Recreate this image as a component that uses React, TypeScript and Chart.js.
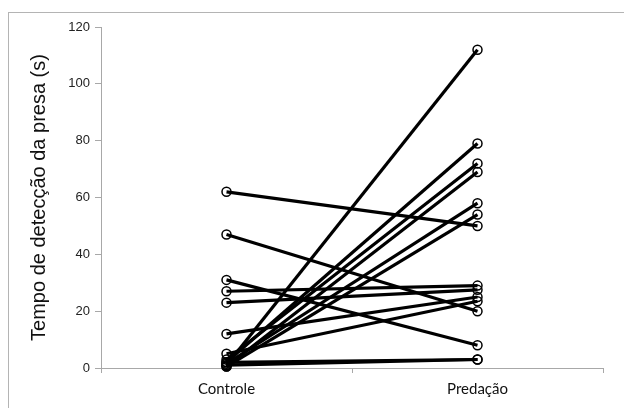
import React, { useEffect, useRef } from "react";
import { Chart, registerables } from "chart.js";

Chart.register(...registerables);

const categories = ["Controle", "Predação"];
const controle = [62, 47, 31, 27, 23, 12, 5, 1, 2, 3, 0.5, 1.5, 0.5, 1, 2];
const predacao = [50, 20, 8, 29, 27.5, 25, 23.5, 112, 79, 72, 69, 58, 54, 3, 3];
const yTitle = "Tempo de detecção da presa (s)";
const yMin = 0;
const yMax = 120;
const yStep = 20;

export default function App() {
  const ref = useRef<HTMLCanvasElement | null>(null);

  useEffect(() => {
    if (!ref.current) return;
    const datasets = controle.map((c, i) => ({
      label: "S" + (i + 1),
      data: [c, predacao[i]],
      borderColor: "#000",
      borderWidth: 3.2,
      pointRadius: 4.5,
      pointBorderWidth: 1.5,
      pointBorderColor: "#000",
      pointBackgroundColor: "rgba(255,255,255,0)",
      clip: false as any,
      tension: 0,
    }));
    const chart = new Chart(ref.current, {
      type: "line",
      data: { labels: categories, datasets },
      options: {
        animation: false,
        responsive: false,
        maintainAspectRatio: false,
        layout: { padding: { left: 0, top: 19, right: 29, bottom: 0 } },
        plugins: { legend: { display: false }, tooltip: { enabled: false } },
        scales: {
          x: {
            type: "category",
            offset: true,
            grid: {
              offset: true,
              drawOnChartArea: false,
              tickLength: 5,
              color: "#a8a8a8",
            },
            border: { color: "#a8a8a8", width: 1 },
            ticks: {
              padding: 7,
              color: "#111",
              font: { family: "Lato, 'Noto Sans', sans-serif", size: 15 },
              maxRotation: 0,
            },
            afterFit: (s: any) => {
              s.height = 40;
            },
          },
          y: {
            min: yMin,
            max: yMax,
            ticks: {
              stepSize: yStep,
              padding: 5,
              color: "#222",
              font: { family: "'Liberation Sans', Arial, sans-serif", size: 13 },
            },
            grid: {
              drawOnChartArea: false,
              tickLength: 6,
              color: "#a8a8a8",
            },
            border: { color: "#a8a8a8", width: 1 },
            title: {
              display: true,
              text: yTitle,
              color: "#111",
              font: { family: "'Liberation Sans', Arial, sans-serif", size: 20 },
              padding: { top: 19, bottom: 0 },
            },
            afterFit: (s: any) => {
              s.width = 93;
            },
          },
        },
      },
    });
    return () => chart.destroy();
  }, []);

  return (
    <div style={{ position: "relative", width: 624, height: 400, overflow: "hidden" }}>
      <div
        style={{
          position: "absolute",
          left: 0,
          top: 4,
          width: 700,
          height: 500,
          border: "1.5px solid #b4b4b4",
          boxSizing: "border-box",
        }}
      />
      <canvas ref={ref} width={624} height={400} style={{ position: "absolute", left: 0, top: 0, display: "block" }} />
    </div>
  );
}
